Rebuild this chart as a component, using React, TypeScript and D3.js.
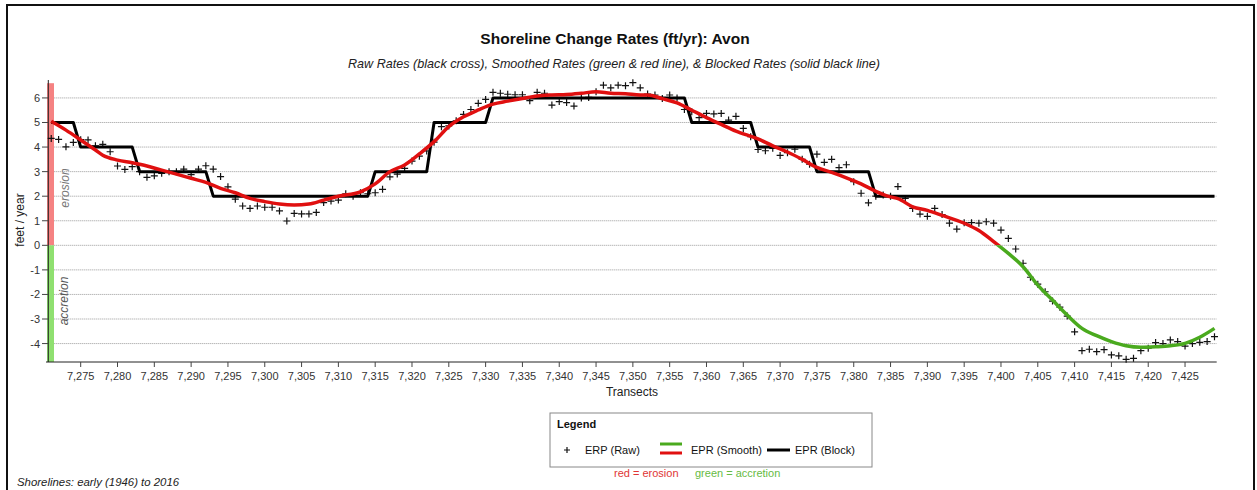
import React from "react";
import * as d3 from "d3";

// ---------- DATA ----------
const rawStart = 7271;
const rawValues: number[] = [
  4.35, 4.31, 4.01, 4.19, 4.3, 4.29, 4.05, 4.11, 3.81, 3.23, // 7271-7280
  3.09, 3.2, 3.0, 2.77, 2.83, 2.93, 3.0, 3.0, 3.1, 2.88, // 7281-7290
  3.1, 3.24, 3.1, 2.8, 2.38, 1.88, 1.6, 1.5, 1.6, 1.55, // 7291-7300
  1.55, 1.4, 0.99, 1.3, 1.28, 1.28, 1.34, 1.74, 1.8, 1.84, // 7301-7310
  2.1, 2.0, 2.14, 2.1, 2.14, 2.28, 2.79, 2.9, 3.13, 3.43, // 7311-7320
  3.63, 3.84, 4.2, 4.83, 4.86, 5.07, 5.33, 5.53, 5.78, 5.94, // 7321-7330
  6.23, 6.19, 6.15, 6.13, 6.13, 5.89, 6.23, 6.19, 5.71, 5.85, // 7331-7340
  5.81, 5.67, 6.0, 6.02, 6.25, 6.52, 6.41, 6.52, 6.5, 6.62, // 7341-7350
  6.41, 6.16, 6.12, 5.98, 6.12, 6.0, 5.53, 5.44, 5.2, 5.37, // 7351-7360
  5.35, 5.37, 5.1, 5.25, 4.76, 4.42, 3.9, 3.85, 3.95, 3.66, // 7361-7370
  3.77, 3.91, 3.5, 3.3, 3.71, 3.38, 3.5, 3.16, 3.28, 2.59, // 7371-7380
  2.12, 1.73, 2.0, 2.05, 2.0, 2.39, 1.91, 1.5, 1.27, 1.18, // 7381-7390
  1.5, 1.25, 0.9, 0.66, 0.92, 0.92, 0.9, 0.96, 0.9, 0.62, // 7391-7400
  0.28, -0.15, -0.73, -1.3, -1.58, -1.89, -2.27, -2.52, -2.88, -3.52, // 7401-7410
  -4.29, -4.23, -4.33, -4.25, -4.46, -4.5, -4.64, -4.6, -4.29, -4.19, // 7411-7420
  -3.96, -4.0, -3.85, -3.92, -4.1, -4.0, -3.95, -3.92, -3.72, // 7421-7429
];

const smoothT: number[] = [
  7271, 7273, 7275, 7277, 7278, 7280, 7282, 7284, 7286, 7288, 7290, 7292, 7294,
  7296, 7298, 7300, 7302, 7304, 7306, 7308, 7310, 7313, 7315, 7317, 7319, 7321,
  7323, 7325, 7327, 7329, 7331, 7333, 7335, 7337, 7339, 7341, 7343, 7345, 7347,
  7349, 7351, 7352, 7354, 7356, 7358, 7360, 7362, 7364, 7367, 7369, 7371, 7373,
  7375, 7377, 7379, 7381, 7383, 7385, 7386, 7388, 7390, 7392, 7395, 7397, 7399,
  7401, 7403, 7405, 7407, 7409, 7411, 7413, 7415, 7417, 7419, 7421, 7423, 7425,
  7427, 7429,
];
const smoothV: number[] = [
  5.05, 4.69, 4.29, 3.88, 3.67, 3.47, 3.36, 3.23, 3.06, 2.9, 2.73, 2.56, 2.32,
  2.14, 1.91, 1.78, 1.68, 1.64, 1.68, 1.84, 2.0, 2.18, 2.5, 3.0, 3.27, 3.72,
  4.22, 4.83, 5.23, 5.51, 5.75, 5.87, 5.98, 6.08, 6.12, 6.14, 6.19, 6.25, 6.19,
  6.17, 6.12, 6.12, 5.97, 5.8, 5.5, 5.2, 4.92, 4.65, 4.33, 4.05, 3.8, 3.5,
  3.17, 2.97, 2.75, 2.5, 2.2, 1.97, 1.9, 1.57, 1.42, 1.22, 0.9, 0.6, 0.15,
  -0.33, -0.87, -1.62, -2.23, -2.84, -3.38, -3.68, -3.92, -4.09, -4.15, -4.13, -4.09, -3.99,
  -3.74, -3.38,
];

const blockT: number[] = [
  7271, 7274, 7275, 7282, 7283, 7292, 7293, 7314, 7315, 7322, 7323, 7330, 7331,
  7357, 7358, 7366, 7367, 7374, 7375, 7382, 7383, 7429,
];
const blockV: number[] = [
  5, 5, 4, 4, 3, 3, 2, 2, 3, 3, 5, 5, 6, 6, 5, 5, 4, 4, 3, 3, 2, 2,
];

const xTicks: number[] = d3.range(7275, 7426, 5);
const yTicks: number[] = [-4, -3, -2, -1, 0, 1, 2, 3, 4, 5, 6];

const titleText = "Shoreline Change Rates (ft/yr): Avon";
const subtitleText =
  "Raw Rates (black cross), Smoothed Rates (green & red line), & Blocked Rates (solid black line)";
const footText = "Shorelines: early (1946) to 2016";

// ---------- CHART ----------
const W = 1257;
const H = 490;
const FONT = "'Liberation Sans', Arial, sans-serif";

export default function App() {
  const x = d3.scaleLinear().domain([7270.6, 7429.3]).range([48.3, 1216.7]);
  const y = d3.scaleLinear().domain([-4.75, 6.73]).range([362, 80]);

  const raw = rawValues.map((v, i) => ({ t: rawStart + i, v }));
  const smooth = smoothT.map((t, i) => ({ t, v: smoothV[i] }));
  const block = blockT.map((t, i) => ({ t, v: blockV[i] }));

  const smoothLine = d3
    .line<{ t: number; v: number }>()
    .x((d) => x(d.t))
    .y((d) => y(d.v))
    .curve(d3.curveMonotoneX);
  const blockLine = d3
    .line<{ t: number; v: number }>()
    .x((d) => x(d.t))
    .y((d) => y(d.v));

  const fmt = d3.format(",");
  const y0 = y(0);
  const left = x.range()[0];
  const right = x.range()[1];
  const bottom = y.range()[0];

  return (
    <svg
      width={W}
      height={H}
      style={{ position: "fixed", left: 0, top: 0, background: "#fff" }}
      fontFamily={FONT}
    >
      <rect x={0} y={0} width={W} height={H} fill="#fff" />
      <rect x={7} y={5} width={1247} height={500} fill="none" stroke="#111" strokeWidth={2} />

      {/* titles */}
      <text x={615} y={44} textAnchor="middle" fontSize={15.5} fontWeight="bold" fill="#111">
        {titleText}
      </text>
      <text x={614} y={68} textAnchor="middle" fontSize={12.6} fontStyle="italic" fill="#222">
        {subtitleText}
      </text>

      {/* grid */}
      {yTicks.map((t) => (
        <line
          key={"g" + t}
          x1={left}
          x2={right}
          y1={y(t)}
          y2={y(t)}
          stroke="#999"
          strokeWidth={1}
          strokeDasharray="1,1"
        />
      ))}

      {/* erosion / accretion bands */}
      <rect x={47} y={y(6.6)} width={7} height={y0 - y(6.6)} fill="#f58282" />
      <rect x={47} y={y0} width={7} height={bottom - y0} fill="#8fe070" />
      <text
        transform={`translate(69,188) rotate(-90)`}
        textAnchor="middle"
        fontSize={12}
        fontStyle="italic"
        fill="#777"
      >
        erosion
      </text>
      <text
        transform={`translate(68,301) rotate(-90)`}
        textAnchor="middle"
        fontSize={12}
        fontStyle="italic"
        fill="#555"
      >
        accretion
      </text>

      {/* axes */}
      <line x1={48.3} x2={48.3} y1={80} y2={bottom} stroke="#222" strokeWidth={1} />
      <line x1={46} x2={right} y1={bottom} y2={bottom} stroke="#222" strokeWidth={1} />
      {yTicks.map((t) => (
        <g key={"yt" + t}>
          <line x1={42} x2={48} y1={y(t)} y2={y(t)} stroke="#444" />
          <text x={40} y={y(t) + 4} textAnchor="end" fontSize={11} fill="#333">
            {t}
          </text>
        </g>
      ))}
      {xTicks.map((t) => (
        <g key={"xt" + t}>
          <line x1={x(t)} x2={x(t)} y1={bottom} y2={bottom + 5} stroke="#444" />
          <text x={x(t)} y={bottom + 18} textAnchor="middle" fontSize={11} fill="#333">
            {fmt(t)}
          </text>
        </g>
      ))}
      <text x={632} y={396} textAnchor="middle" fontSize={12} fill="#222">
        Transects
      </text>
      <text
        transform={`translate(24,220) rotate(-90)`}
        textAnchor="middle"
        fontSize={12}
        fill="#222"
      >
        feet / year
      </text>

      {/* clip paths for smooth colour split */}
      <defs>
        <clipPath id="above">
          <rect x={0} y={0} width={W} height={y0} />
        </clipPath>
        <clipPath id="below">
          <rect x={0} y={y0} width={W} height={H - y0} />
        </clipPath>
      </defs>

      {/* raw crosses */}
      {raw.map((d) => (
        <path
          key={"r" + d.t}
          d={`M${x(d.t) - 3.5},${y(d.v)}h7M${x(d.t)},${y(d.v) - 3.5}v7`}
          stroke="#111"
          strokeWidth={1.2}
        />
      ))}

      {/* block line */}
      <path d={blockLine(block) || ""} fill="none" stroke="#000" strokeWidth={3} strokeLinejoin="round" />

      {/* smooth line */}
      <path
        d={smoothLine(smooth) || ""}
        fill="none"
        stroke="#e01010"
        strokeWidth={3.5}
        clipPath="url(#above)"
      />
      <path
        d={smoothLine(smooth) || ""}
        fill="none"
        stroke="#4aaa1e"
        strokeWidth={3.5}
        clipPath="url(#below)"
      />

      {/* legend */}
      <rect x={550} y={413} width={322} height={54} fill="#fff" stroke="#888" strokeWidth={1} />
      <text x={557} y={428} fontSize={11} fontWeight="bold" fill="#111">
        Legend
      </text>
      <path d="M564,450h6M567,447v6" stroke="#111" strokeWidth={1.2} />
      <text x={585} y={454} fontSize={11} fill="#111">
        ERP (Raw)
      </text>
      <line x1={660} x2={682} y1={444} y2={444} stroke="#4aaa1e" strokeWidth={3} />
      <line x1={660} x2={682} y1={453} y2={453} stroke="#e01010" strokeWidth={3} />
      <text x={691} y={454} fontSize={11} fill="#111">
        EPR (Smooth)
      </text>
      <line x1={767} x2={790} y1={450} y2={450} stroke="#000" strokeWidth={3} />
      <text x={795} y={454} fontSize={11} fill="#111">
        EPR (Block)
      </text>
      <text x={614} y={477} fontSize={11} fill="#e03535">
        red = erosion
      </text>
      <text x={695} y={477} fontSize={11} fill="#66bb44">
        green = accretion
      </text>

      <text x={17} y={486} fontSize={11.4} fontStyle="italic" fill="#222">
        {footText}
      </text>
    </svg>
  );
}
